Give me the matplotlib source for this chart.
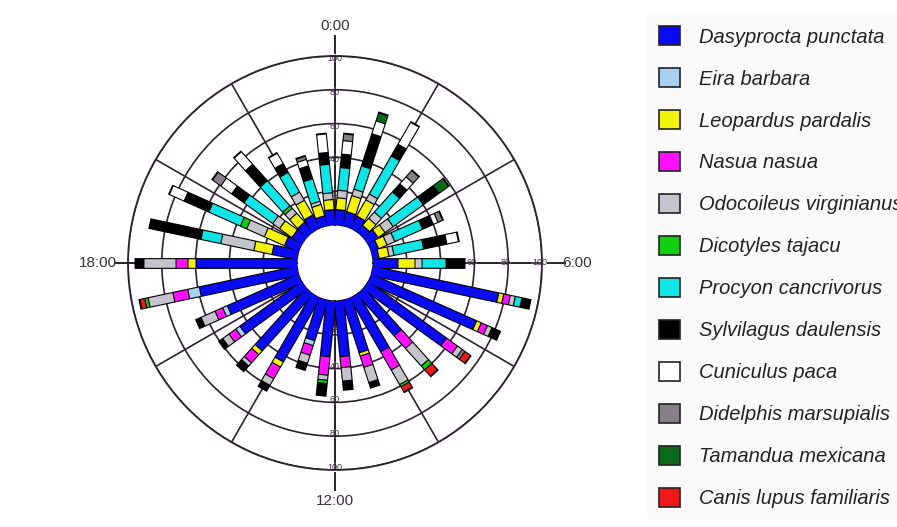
import numpy as np
import matplotlib
matplotlib.use("Agg")
import matplotlib.pyplot as plt
from matplotlib.patches import Patch

plt.rcParams['font.family'] = ['Liberation Sans', 'DejaVu Sans']

# especies (orden de apilado, del centro hacia afuera)
species = ["Dasyprocta punctata", "Eira barbara", "Leopardus pardalis", "Nasua nasua",
           "Odocoileus virginianus", "Dicotyles tajacu", "Procyon cancrivorus",
           "Sylvilagus daulensis", "Cuniculus paca", "Didelphis marsupialis",
           "Tamandua mexicana", "Canis lupus familiaris"]
colors = ["#0b0bf2", "#a8d0f0", "#f2f20a", "#ff10ff", "#c4c4cc", "#10d010",
          "#10e4e4", "#000000", "#ffffff", "#858085", "#0a6a1a", "#f01818"]

# centro de cada barra (grados, 0:00 arriba, sentido horario)
bar_angles = [6 + 12 * k for k in range(30)]

# registros por barra y especie
dasyprocta = [9, 8.5, 8, 5, 7, 4.5, 3.6, 14.7, 76, 68, 57, 33, 36.5, 32.5, 33,
              33, 25, 43.5, 45, 45, 46, 59, 60, 15, 9, 7, 7.5, 8.7, 6, 9]
eira = [0, 0, 0, 0, 0, 0, 0, 0, 0, 0, 0, 0, 0, 0, 0,
        0, 3, 0, 0, 3, 3, 7, 0, 0, 0, 0, 0, 0, 0, 0]
leopardus = [7, 10, 11, 5.5, 5, 5.5, 6, 10, 3, 3, 0, 0, 0, 2, 0,
             0, 0, 3.5, 3, 0, 0, 0, 4.7, 11, 13, 9, 7, 10, 7, 6]
nasua = [0, 0, 0, 0, 0, 0, 0, 0, 4, 4, 8, 10, 12.5, 7, 6.5,
         11, 6, 8, 6.5, 5, 5, 9, 7, 0, 0, 0, 0, 0, 0, 0]
odocoileus = [4.5, 4, 4, 5, 6, 5, 3, 4, 3, 3, 3.5, 14, 10, 9.5, 8,
              3, 5, 4.5, 2.5, 4.5, 9, 15, 19, 20, 11.5, 5, 4, 5.6, 2, 4]
dicotyles = [0, 0, 0, 0, 0, 0, 0, 0, 0, 0, 0, 3, 1.5, 0, 0,
             2, 0, 0, 0, 0, 0, 2, 0, 0, 4, 0, 2, 0, 0, 0]
procyon = [13.5, 14.5, 26, 16, 22, 18, 18, 14.5, 4, 0, 0, 0, 0, 0, 0,
           0, 0, 0, 0, 0, 0, 0, 0, 12, 20.5, 21, 20, 13.5, 14, 17]
sylvilagus = [8, 20, 8, 6.5, 11.5, 7, 14, 10.5, 5, 5, 0, 0, 0, 3, 5,
              7, 4, 3.5, 4, 2.5, 3, 0, 5, 31, 16, 9, 13, 6, 8, 7]
cuniculus = [8, 8, 15, 5.5, 0, 3, 7, 0, 0, 0, 0, 0, 0, 0, 0,
             0, 0, 0, 0, 0, 0, 0, 0, 0, 9.5, 8, 10, 7, 4, 11]
didelphis = [4, 0, 0, 5, 0, 3, 0, 0, 0, 0, 2, 0, 0, 0, 0,
             0, 0, 0, 0, 0, 0, 0, 0, 0, 0, 6, 0, 0, 2, 0]
tamandua = [0, 5, 0, 0, 7, 0, 0, 0, 0, 0, 0, 0, 0, 0, 0,
            0, 0, 0, 0, 0, 0, 0, 0, 0, 0, 0, 0, 0, 0, 0]
canis = [0, 0, 0, 0, 0, 0, 0, 0, 0, 0, 4, 5, 3.5, 0, 0,
         0, 0, 0, 0, 0, 0, 3, 0, 0, 0, 0, 0, 0, 0, 0]

series = [dasyprocta, eira, leopardus, nasua, odocoileus, dicotyles, procyon,
          sylvilagus, cuniculus, didelphis, tamandua, canis]

ring_ticks = [20, 40, 60, 80, 100]
hour_labels = ["0:00", "6:00", "12:00", "18:00"]

grid_col = "#2e2030"
text_col = "#3a3040"

fig = plt.figure(figsize=(8.97, 5.27), dpi=100)
ax = fig.add_axes([0.1427, 0.1082, 0.4615, 0.7856], projection='polar')
ax.set_theta_zero_location('N')
ax.set_theta_direction(-1)
ax.set_ylim(0, 100)
ax.set_rorigin(-22.5)
ax.set_yticks(ring_ticks)
ax.set_yticklabels([])
ax.set_xticks(np.deg2rad(np.arange(0, 360, 30)))
ax.set_xticklabels([])
ax.grid(True, color=grid_col, linewidth=1.2)
ax.spines['polar'].set_color(grid_col)
ax.spines['polar'].set_linewidth(1.3)

# ejes principales que salen del círculo
for a, lab, rl, rt in zip([0, 90, 180, 270], hour_labels,
                          [112, 113.5, 112, 107.5], [118, 121, 118.5, 118]):
    th = np.deg2rad(a)
    ax.plot([th, th], [0, rl], color=grid_col, lw=1.4, clip_on=False, zorder=1)
    ax.text(th, rt, lab, ha='center', va='center', fontsize=11,
            color=text_col, clip_on=False)

# etiquetas del eje radial
for a, vals in [(0, ring_ticks), (180, ring_ticks), (90, [60, 80, 100])]:
    for v in vals:
        ax.text(np.deg2rad(a), v - 1.5, str(v), ha='center', va='center',
                fontsize=6.5, color=text_col, zorder=1.5,
                bbox=dict(facecolor='white', edgecolor='none', pad=0.3))

# barras apiladas (ancho constante en pixeles)
theta = np.deg2rad(bar_angles)
data = np.array(series)
totals = data.sum(axis=0)
for i, th in enumerate(theta):
    ax.plot([th, th], [0, totals[i] + 0.8], color='black', lw=7.8,
            solid_capstyle='butt', zorder=3)
for i, th in enumerate(theta):
    base = 0
    for j in range(len(species)):
        v = data[j, i]
        if v <= 0:
            continue
        lo = base + 0.35 if base > 0 else 0
        ax.plot([th, th], [lo, base + v - 0.35], color=colors[j], lw=6.2,
                solid_capstyle='butt', zorder=4)
        base += v

handles = [Patch(facecolor=c, edgecolor='#222222', linewidth=1.2) for c in colors]
leg = fig.legend(handles, species, loc='upper left', bbox_to_anchor=(0.710, 0.992),
                 fontsize=14.5, frameon=True, handlelength=1.05, handleheight=1.05,
                 handletextpad=0.95, labelspacing=1.08, borderpad=0.6)
leg.get_frame().set_facecolor('#f9f9f9')
leg.get_frame().set_edgecolor('none')
for t in leg.get_texts():
    t.set_fontstyle('italic')
    t.set_color('#222222')

fig.savefig("out.png", dpi=100, facecolor='white')
